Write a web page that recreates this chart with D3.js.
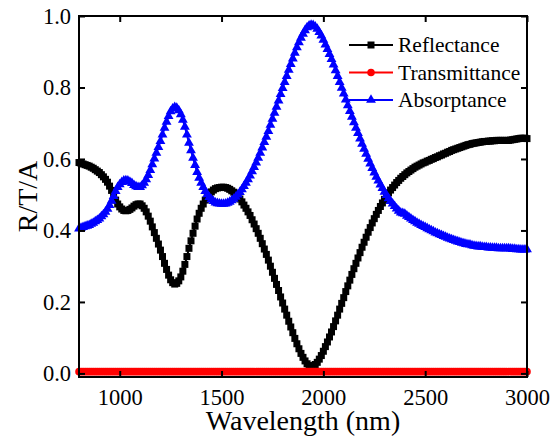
<!DOCTYPE html>
<html>
<head>
<meta charset="utf-8">
<script src="https://cdn.jsdelivr.net/npm/d3@7"></script>
</head>
<body style="margin:0">
<svg id="chart" width="551" height="443"></svg>
<script>
const WIDTH = 551;
const HEIGHT = 443;
const MARGIN = { top: 16, right: 24, bottom: 66, left: 79 };
const FONT = '"Liberation Serif"';

// wavelength samples (nm), every 10 nm from 800 to 3000
const wavelength = d3.range(800, 3001, 10);

const reflectance = [
  0.590, 0.588, 0.586, 0.584, 0.582, 0.580, 0.577, 0.574, 0.570, 0.566,
  0.562, 0.556, 0.550, 0.543, 0.535, 0.524, 0.512, 0.499, 0.485, 0.474,
  0.466, 0.460, 0.456, 0.455, 0.456, 0.459, 0.463, 0.468, 0.472, 0.474,
  0.474, 0.469, 0.462, 0.452, 0.440, 0.426, 0.410, 0.394, 0.378, 0.362,
  0.345, 0.327, 0.308, 0.291, 0.275, 0.262, 0.254, 0.250, 0.252, 0.259,
  0.270, 0.286, 0.305, 0.327, 0.350, 0.371, 0.392, 0.412, 0.432, 0.448,
  0.462, 0.474, 0.485, 0.494, 0.502, 0.508, 0.513, 0.517, 0.519, 0.520,
  0.521, 0.521, 0.520, 0.518, 0.515, 0.511, 0.507, 0.501, 0.495, 0.488,
  0.480, 0.471, 0.462, 0.452, 0.442, 0.430, 0.418, 0.405, 0.392, 0.378,
  0.363, 0.348, 0.333, 0.317, 0.300, 0.283, 0.266, 0.249, 0.232, 0.214,
  0.197, 0.180, 0.163, 0.146, 0.130, 0.114, 0.098, 0.083, 0.069, 0.056,
  0.045, 0.035, 0.027, 0.022, 0.020, 0.021, 0.025, 0.031, 0.040, 0.050,
  0.062, 0.075, 0.088, 0.102, 0.116, 0.131, 0.147, 0.163, 0.180, 0.196,
  0.212, 0.229, 0.245, 0.261, 0.277, 0.293, 0.308, 0.323, 0.338, 0.353,
  0.367, 0.381, 0.395, 0.408, 0.421, 0.433, 0.445, 0.456, 0.467, 0.477,
  0.487, 0.496, 0.505, 0.513, 0.520, 0.527, 0.534, 0.540, 0.546, 0.551,
  0.556, 0.561, 0.565, 0.569, 0.573, 0.577, 0.580, 0.583, 0.586, 0.589,
  0.591, 0.594, 0.596, 0.599, 0.601, 0.604, 0.606, 0.609, 0.611, 0.614,
  0.616, 0.619, 0.621, 0.624, 0.626, 0.628, 0.630, 0.632, 0.634, 0.636,
  0.638, 0.640, 0.641, 0.643, 0.644, 0.645, 0.646, 0.647, 0.648, 0.649,
  0.649, 0.650, 0.650, 0.651, 0.651, 0.652, 0.652, 0.652, 0.652, 0.652,
  0.652, 0.652, 0.653, 0.654, 0.655, 0.656, 0.657, 0.658, 0.658, 0.658,
  0.657
];

const transmittance = [
  0.005, 0.005, 0.005, 0.005, 0.005, 0.005, 0.005, 0.005, 0.005, 0.005,
  0.005, 0.005, 0.005, 0.005, 0.005, 0.005, 0.005, 0.005, 0.005, 0.005,
  0.005, 0.005, 0.005, 0.005, 0.005, 0.005, 0.005, 0.005, 0.005, 0.005,
  0.005, 0.005, 0.005, 0.005, 0.005, 0.005, 0.005, 0.005, 0.005, 0.005,
  0.005, 0.005, 0.005, 0.005, 0.005, 0.005, 0.005, 0.005, 0.005, 0.005,
  0.005, 0.005, 0.005, 0.005, 0.005, 0.005, 0.005, 0.005, 0.005, 0.005,
  0.005, 0.005, 0.005, 0.005, 0.005, 0.005, 0.005, 0.005, 0.005, 0.005,
  0.005, 0.005, 0.005, 0.005, 0.005, 0.005, 0.005, 0.005, 0.005, 0.005,
  0.005, 0.005, 0.005, 0.005, 0.005, 0.005, 0.005, 0.005, 0.005, 0.005,
  0.005, 0.005, 0.005, 0.005, 0.005, 0.005, 0.005, 0.005, 0.005, 0.005,
  0.005, 0.005, 0.005, 0.005, 0.005, 0.005, 0.005, 0.005, 0.005, 0.005,
  0.005, 0.005, 0.005, 0.005, 0.005, 0.005, 0.005, 0.005, 0.005, 0.005,
  0.005, 0.005, 0.005, 0.005, 0.005, 0.005, 0.005, 0.005, 0.005, 0.005,
  0.005, 0.005, 0.005, 0.005, 0.005, 0.005, 0.005, 0.005, 0.005, 0.005,
  0.005, 0.005, 0.005, 0.005, 0.005, 0.005, 0.005, 0.005, 0.005, 0.005,
  0.005, 0.005, 0.005, 0.005, 0.005, 0.005, 0.005, 0.005, 0.005, 0.005,
  0.005, 0.005, 0.005, 0.005, 0.005, 0.005, 0.005, 0.005, 0.005, 0.005,
  0.005, 0.005, 0.005, 0.005, 0.005, 0.005, 0.005, 0.005, 0.005, 0.005,
  0.005, 0.005, 0.005, 0.005, 0.005, 0.005, 0.005, 0.005, 0.005, 0.005,
  0.005, 0.005, 0.005, 0.005, 0.005, 0.005, 0.005, 0.005, 0.005, 0.005,
  0.005, 0.005, 0.005, 0.005, 0.005, 0.005, 0.005, 0.005, 0.005, 0.005,
  0.005, 0.005, 0.005, 0.005, 0.005, 0.005, 0.005, 0.005, 0.005, 0.005,
  0.005
];

const absorptance = [
  0.405, 0.407, 0.409, 0.411, 0.413, 0.415, 0.418, 0.421, 0.425, 0.429,
  0.433, 0.439, 0.445, 0.452, 0.460, 0.471, 0.483, 0.496, 0.510, 0.521,
  0.529, 0.535, 0.539, 0.540, 0.539, 0.536, 0.532, 0.527, 0.523, 0.521,
  0.521, 0.526, 0.533, 0.543, 0.555, 0.569, 0.585, 0.601, 0.617, 0.633,
  0.650, 0.668, 0.687, 0.704, 0.720, 0.733, 0.741, 0.745, 0.743, 0.736,
  0.725, 0.709, 0.690, 0.668, 0.645, 0.624, 0.603, 0.583, 0.563, 0.547,
  0.533, 0.521, 0.510, 0.501, 0.493, 0.487, 0.482, 0.478, 0.476, 0.475,
  0.474, 0.474, 0.475, 0.477, 0.480, 0.484, 0.488, 0.494, 0.500, 0.507,
  0.515, 0.524, 0.533, 0.543, 0.553, 0.565, 0.577, 0.590, 0.603, 0.617,
  0.632, 0.647, 0.662, 0.678, 0.695, 0.712, 0.729, 0.746, 0.763, 0.781,
  0.798, 0.815, 0.832, 0.849, 0.865, 0.881, 0.897, 0.912, 0.926, 0.939,
  0.950, 0.960, 0.968, 0.973, 0.975, 0.974, 0.970, 0.964, 0.955, 0.945,
  0.933, 0.920, 0.907, 0.893, 0.879, 0.864, 0.848, 0.832, 0.815, 0.799,
  0.783, 0.766, 0.750, 0.734, 0.718, 0.702, 0.687, 0.672, 0.657, 0.642,
  0.628, 0.614, 0.600, 0.587, 0.574, 0.562, 0.550, 0.539, 0.528, 0.518,
  0.508, 0.499, 0.490, 0.482, 0.475, 0.468, 0.461, 0.455, 0.450, 0.448,
  0.446, 0.441, 0.437, 0.433, 0.429, 0.425, 0.421, 0.418, 0.415, 0.412,
  0.409, 0.406, 0.403, 0.400, 0.397, 0.394, 0.392, 0.389, 0.387, 0.384,
  0.382, 0.379, 0.377, 0.375, 0.373, 0.371, 0.369, 0.367, 0.365, 0.364,
  0.362, 0.361, 0.360, 0.358, 0.357, 0.356, 0.355, 0.355, 0.354, 0.353,
  0.353, 0.352, 0.352, 0.351, 0.351, 0.351, 0.350, 0.350, 0.350, 0.350,
  0.350, 0.350, 0.349, 0.348, 0.348, 0.347, 0.347, 0.346, 0.346, 0.346,
  0.347
];

const xTicks = [1000, 1500, 2000, 2500, 3000];
const yTicks = [0.0, 0.2, 0.4, 0.6, 0.8, 1.0];

const SERIES = [
  { label: "Reflectance", values: reflectance, color: "#000000", symbol: d3.symbolSquare, size: 49 },
  { label: "Transmittance", values: transmittance, color: "#ff0000", symbol: d3.symbolCircle, size: 45 },
  { label: "Absorptance", values: absorptance, color: "#0000ff", symbol: d3.symbolTriangle, size: 42 },
];

const innerWidth = WIDTH - MARGIN.left - MARGIN.right;
const innerHeight = HEIGHT - MARGIN.top - MARGIN.bottom;

const svg = d3.select("#chart");

const x = d3.scaleLinear().domain([800, 3000]).range([0, innerWidth]);
const y = d3.scaleLinear().domain([-0.01, 1.0]).range([innerHeight, 0]);

const g = svg.append("g").attr("transform", `translate(${MARGIN.left},${MARGIN.top})`);

// —— series: lines + dense markers ——
SERIES.forEach((s) => {
  const pts = wavelength.map((w, i) => ({ w, v: s.values[i] }));
  g.append("path")
    .datum(pts)
    .attr("fill", "none")
    .attr("stroke", s.color)
    .attr("stroke-width", 2)
    .attr("d", d3.line().x((d) => x(d.w)).y((d) => y(d.v)));

  g.append("g")
    .selectAll("path")
    .data(pts)
    .join("path")
    .attr("transform", (d) => `translate(${x(d.w)},${y(d.v)})`)
    .attr("d", d3.symbol().type(s.symbol).size(s.size))
    .attr("fill", s.color);
});

// —— frame & axes (ticks inward, mirrored) ——
const styleAxis = (sel) => {
  sel.attr("font-family", FONT).attr("font-size", 22.5);
  sel.select(".domain").remove();
  sel.selectAll(".tick line").attr("stroke", "#000").attr("stroke-width", 2);
  sel.selectAll(".tick text").attr("fill", "#000").style("font-family", FONT);
};

// mirrored axes: ticks only, no labels
const ticksOnly = (sel) => {
  sel.select(".domain").remove();
  sel.selectAll(".tick text").remove();
  sel.selectAll(".tick line").attr("stroke", "#000").attr("stroke-width", 2);
};

g.append("g")
  .attr("transform", `translate(0,${innerHeight})`)
  .call(d3.axisBottom(x).tickValues(xTicks).tickSizeInner(-6).tickSizeOuter(0).tickFormat(d3.format("d")).tickPadding(12))
  .call(styleAxis);

g.append("g")
  .call(d3.axisTop(x).tickValues(xTicks).tickSizeInner(-6).tickSizeOuter(0))
  .call(ticksOnly);

g.append("g")
  .call(d3.axisLeft(y).tickValues(yTicks).tickSizeInner(-6).tickSizeOuter(0).tickFormat(d3.format(".1f")).tickPadding(8))
  .call(styleAxis);

g.append("g")
  .attr("transform", `translate(${innerWidth},0)`)
  .call(d3.axisRight(y).tickValues(yTicks).tickSizeInner(-6).tickSizeOuter(0))
  .call(ticksOnly);

g.append("rect")
  .attr("width", innerWidth)
  .attr("height", innerHeight)
  .attr("fill", "none")
  .attr("stroke", "#000")
  .attr("stroke-width", 2);

// —— axis titles ——
svg.append("text")
  .style("font-family", FONT)
  .attr("font-size", 28)
  .attr("x", MARGIN.left + innerWidth / 2)
  .attr("y", 430)
  .attr("text-anchor", "middle")
  .text("Wavelength (nm)");

svg.append("text")
  .style("font-family", FONT)
  .attr("font-size", 28)
  .attr("transform", `translate(37,${MARGIN.top + innerHeight / 2}) rotate(-90)`)
  .attr("text-anchor", "middle")
  .text("R/T/A");

// —— legend ——
const legend = svg.append("g").attr("transform", "translate(349,45)");
const row = legend.selectAll("g")
  .data(SERIES)
  .join("g")
  .attr("transform", (_, i) => `translate(0,${i * 27.5})`);

row.append("line")
  .attr("x1", 0).attr("x2", 44)
  .attr("stroke", (d) => d.color)
  .attr("stroke-width", 2);

row.append("path")
  .attr("transform", "translate(22,0)")
  .attr("d", (d) => d3.symbol().type(d.symbol).size(d.size)())
  .attr("fill", (d) => d.color);

row.append("text")
  .style("font-family", FONT)
  .attr("font-size", 21.5)
  .attr("x", 49)
  .attr("y", 7)
  .text((d) => d.label);
</script>
</body>
</html>
